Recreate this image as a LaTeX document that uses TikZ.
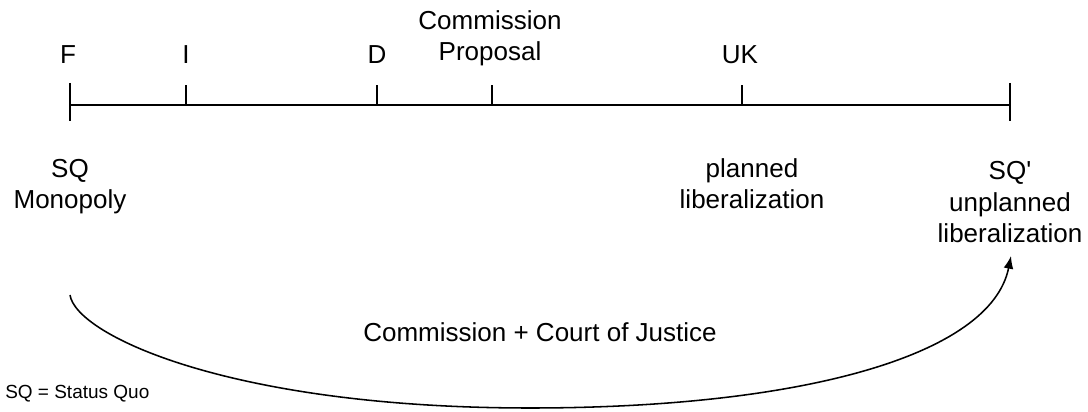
\documentclass[tikz,border=0pt]{standalone}
\usepackage{fontspec}
\setmainfont{Liberation Sans}
\usepackage{tikz}
\usetikzlibrary{arrows.meta}

\begin{document}
\begin{tikzpicture}[x=0.025cm,y=-0.025cm]

      \tikzstyle{lbl}=[font=\fontsize{18.5}{22.7}\selectfont,
        inner sep=0pt,anchor=base,align=center]
      \tikzstyle{note}=[font=\fontsize{13.5}{16}\selectfont,
        inner sep=0pt,anchor=base west]
      \tikzstyle{axis}=[line width=1.5pt]

      \useasboundingbox (0,0) rectangle (1088,412);

      \coordinate(F) at (70,105);
      \coordinate(I) at (186,105);
      \coordinate(D) at (377,105);
      \coordinate(CP) at (492,105);
      \coordinate(UK) at (742,105);
      \coordinate(END) at (1010,105);

      \draw [axis] (F)--(END);
      \draw [axis] (F) ++(0,-22) -- ++(0,38);
      \draw [axis] (END) ++(0,-22) -- ++(0,38);
      \foreach \t in {I,D,CP,UK}
        \draw [axis] (\t) -- ++(0,-20);

      % base = last line of a node
      \node(FLabel)[lbl] at (68,64){F};
      \node(ILabel)[lbl] at (186,64){I};
      \node(DLabel)[lbl] at (377,64){D};
      \node(CPLabel)[lbl] at (490,61){Commission\\Proposal};
      \node(UKLabel)[lbl] at (740,64){UK};

      \node(SQ1)[lbl] at (70,209){SQ\\Monopoly};
      \node(PLANNED)[lbl] at (752,209){planned\\liberalization};
      \node(SQ2)[lbl] at (1010,243){SQ\textquotesingle\\unplanned\\liberalization};

      \node(COURT)[lbl] at (540,342){Commission + Court of Justice};
      \node(NOTE)[note] at (5,399){SQ = Status Quo};

      \coordinate(ARCstart) at (70,295);
      \coordinate(ARCbottom) at (530,408);
      \coordinate(ARCend) at (1011,256);

      \draw [line width=1.1pt,-{Latex[length=9pt,width=7pt]}]
      (ARCstart) .. controls +(6,40) and +(-300,0) .. (ARCbottom)
      .. controls +(270,0) and +(-20,100) .. (ARCend);

    \end{tikzpicture}
\end{document}
